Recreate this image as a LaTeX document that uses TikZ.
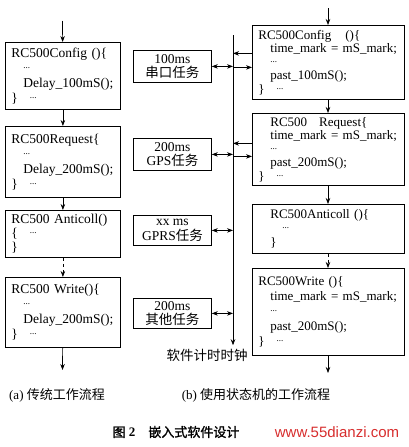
\documentclass[tikz,border=0pt]{standalone}
\usepackage{fontspec}
\setmainfont{Liberation Serif}
\newfontfamily\cjk{Noto Sans CJK SC}
\newfontfamily\cjkb[FakeBold=1.5]{Noto Sans CJK SC}
\newfontfamily\urlfont{Liberation Sans}
\usetikzlibrary{arrows.meta}
\definecolor{urlred}{RGB}{215,45,45}
\newcommand{\dd}{\raisebox{0.3em}{\small...}}
\newcommand{\ind}{\hspace*{12pt}}
\begin{document}
\begin{tikzpicture}[x=1pt,y=-1pt,
  code/.style={draw,line width=0.8pt,anchor=north west,align=left,inner xsep=6pt,inner ysep=2pt,
    font=\fontsize{13.5}{15}\selectfont},
  task/.style={draw,line width=0.8pt,anchor=north west,align=center,inner sep=1pt,
    minimum width=78pt,font=\fontsize{13.5}{14.5}\selectfont},
  flow/.style={-{Stealth[length=6pt,width=4.5pt]},line width=0.7pt},
  both/.style={{Stealth[length=6pt,width=4.5pt]}-{Stealth[length=6pt,width=4.5pt]},line width=0.7pt}]
\useasboundingbox (0,0) rectangle (409,447);
% (a) left flow
\node[code,text width=103pt,minimum height=67pt] (cfgA) at (5,42)
  {RC500Config~()\{\\ \ind\dd\\ \ind\mbox{Delay\_100mS();}\\ \}\ind\dd};
\node[code,text width=103pt,minimum height=71pt] (reqA) at (5,126)
  {RC500Request\{\\ \ind\dd\\ \ind\mbox{Delay\_200mS();}\\ \}\ind\dd};
\node[code,text width=103pt,minimum height=47pt,font=\fontsize{13.5}{14}\selectfont] (antA) at (5,210)
  {RC500~Anticoll()\\ \{\ind\dd\\ \}};
\node[code,text width=103pt,minimum height=70pt] (wrA) at (5,277)
  {RC500~Write()\{\\ \ind\dd\\ \ind\mbox{Delay\_200mS();}\\ \}\ind\dd};
\coordinate (inA) at (62.5,21);
\coordinate (outA) at (62.5,370);
\draw[flow] (inA) -- (cfgA);
\draw[flow] (cfgA) -- (reqA);
\draw[flow] (reqA) -- (antA);
\draw[flow,dashed] (antA) -- (wrA);
\draw[flow] (wrA) -- (outA);
% tasks and software clock
\node[task,minimum height=32pt] (uart) at (133,50) {100ms\\{\cjk 串口任务}};
\node[task,minimum height=32pt] (gps) at (133,138) {200ms\\GPS{\cjk 任务}};
\node[task,minimum height=30pt] (gprs) at (133,215) {xx ms\\GPRS{\cjk 任务}};
\node[task,minimum height=30pt] (other) at (133,298) {200ms\\{\cjk 其他任务}};
\coordinate (clk0) at (233,35);
\node[font=\fontsize{13.5}{14}\selectfont] (clk) at (207,355) {\cjk 软件计时时钟};
\draw[flow] (clk0) -- (clk0 |- clk.north);
\draw[both] (uart) -- (uart -| clk0);
\draw[both] (gps) -- (gps -| clk0);
\draw[both] (gprs) -- (gprs -| clk0);
\draw[both] (other) -- (other -| clk0);
% (b) right flow
\node[code,text width=140pt,minimum height=74pt,font=\fontsize{13}{13.5}\selectfont] (cfgB) at (252,25)
  {RC500Config\hspace*{14pt}()\{\\ \ind time\_mark~=~mS\_mark;\\ \ind\dd\\ \ind past\_100mS();\\ \}\ind\dd};
\node[code,text width=140pt,minimum height=72pt,font=\fontsize{13}{13.5}\selectfont] (reqB) at (252,113)
  {\ind RC500\hspace*{12pt}Request\{\\ \ind time\_mark~=~mS\_mark;\\ \ind\dd\\ \ind past\_200mS();\\ \}\ind\dd};
\node[code,text width=140pt,minimum height=49pt,font=\fontsize{13}{14}\selectfont] (antB) at (252,204)
  {\ind RC500Anticoll~()\{\\ \ind\ind\dd\\ \ind\}};
\node[code,text width=140pt,minimum height=87pt,font=\fontsize{13}{15}\selectfont] (wrB) at (252,268)
  {RC500Write~()\{\\ \ind time\_mark~=~mS\_mark;\\ \ind\dd\\ \ind past\_200mS();\\ \}\ind\dd};
\coordinate (inB) at (328,8);
\coordinate (outB) at (328,373);
\draw[flow] (inB) -- (inB |- cfgB.north);
\draw[flow] (cfgB.south -| inB) -- (inB |- reqB.north);
\draw[flow] (reqB.south -| inB) -- (inB |- antB.north);
\draw[flow,dashed] (antB.south -| inB) -- (inB |- wrB.north);
\draw[flow] (wrB.south -| inB) -- (outB);
\draw[flow] ([yshift=9pt]cfgB.west) -- ([yshift=9pt]cfgB.west -| clk0);
\draw[flow] ([yshift=-5pt]cfgB.west -| clk0) -- ([yshift=-5pt]cfgB.west);
\draw[flow] ([yshift=6pt]reqB.west) -- ([yshift=6pt]reqB.west -| clk0);
\draw[flow] ([yshift=-7pt]reqB.west -| clk0) -- ([yshift=-7pt]reqB.west);
% captions
\node[font=\fontsize{13}{14}\selectfont] (capA) at (57,395) {(a) {\cjk 传统工作流程}};
\node[font=\fontsize{13}{14}\selectfont] (capB) at (256,395) {(b) {\cjk 使用状态机的工作流程}};
\node[font=\fontsize{13}{14}\selectfont] (fig) at (176,432) {{\cjkb 图} \textbf{2}\quad{\cjkb 嵌入式软件设计}};
\node[text=urlred,font=\fontsize{15}{16}\selectfont] (url) at (337,432) {\urlfont www.55dianzi.com};
\end{tikzpicture}
\end{document}
